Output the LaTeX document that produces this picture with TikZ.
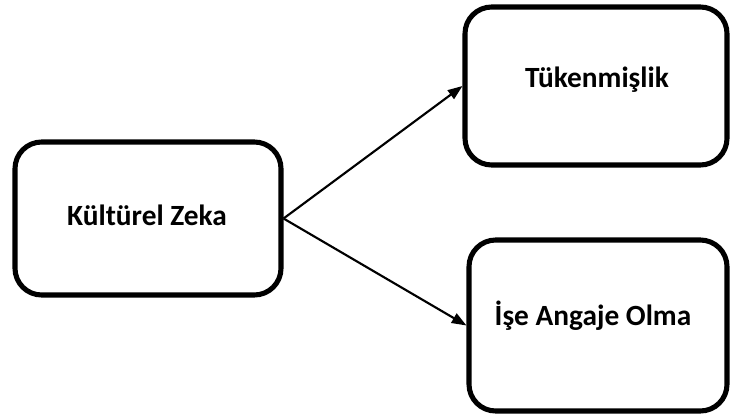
\documentclass[tikz,border=0pt]{standalone}
\usepackage{fontspec}
\setmainfont{Carlito}
\usetikzlibrary{arrows.meta}
\begin{document}
\begin{tikzpicture}[x=0.75pt,y=-0.75pt,
  box/.style={draw=black, line width=3.8pt, rounded corners=20pt, fill=white, inner sep=0pt},
  lbl/.style={font=\bfseries\fontsize{22}{26}\selectfont, inner sep=0pt, anchor=center},
  conn/.style={line width=1.6pt, -{Triangle[length=11pt,width=8pt]}}]
\useasboundingbox (0,0) rectangle (730,417);
\node[box, minimum width=266*0.75pt, minimum height=153*0.75pt] (kz) at (148,218.5) {};
\node[box, minimum width=262*0.75pt, minimum height=158*0.75pt] (tk) at (596,86) {};
\node[box, minimum width=258*0.75pt, minimum height=171*0.75pt] (ise) at (598,325.5) {};
\node[lbl] (kzl) at (147,215) {Kültürel Zeka};
\node[lbl] (tkl) at (597,80) {Tükenmişlik};
\node[lbl] (isel) at (593,316) {İşe Angaje Olma};
\draw[conn] (kz.east) -- (tk.west);
\draw[conn] (kz.east) -- (ise.west);
\end{tikzpicture}
\end{document}
